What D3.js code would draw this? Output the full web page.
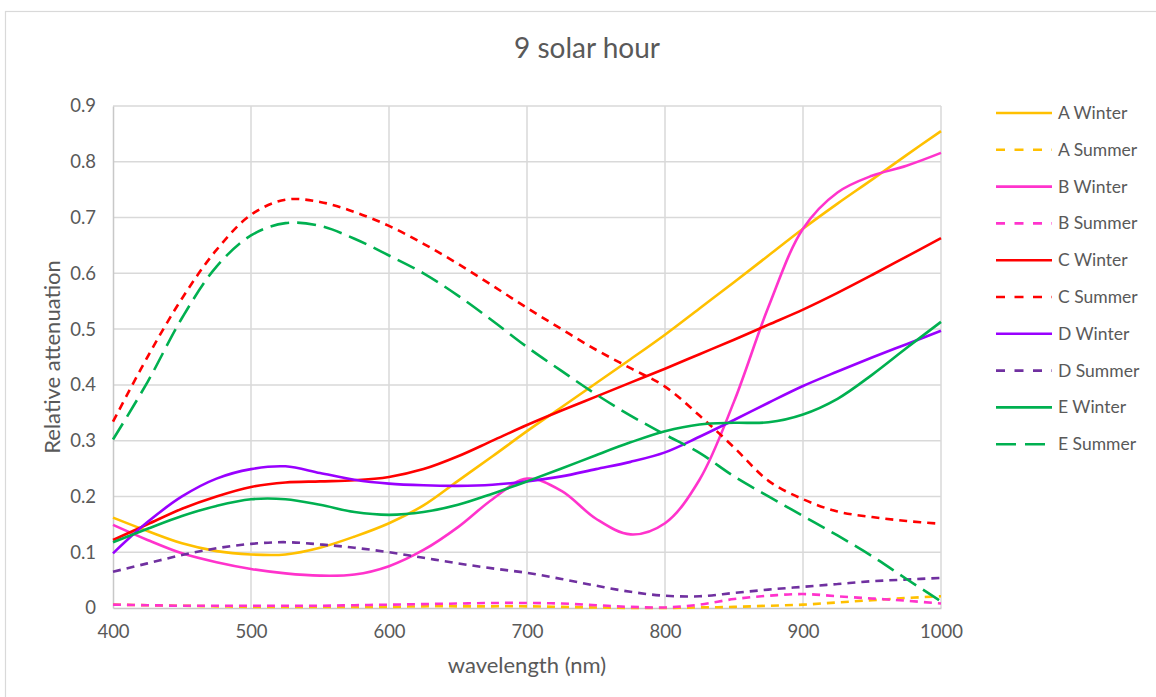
<!DOCTYPE html>
<html>
<head>
<meta charset="utf-8">
<script src="https://cdn.jsdelivr.net/npm/d3@7"></script>
<style>
  html, body { margin: 0; padding: 0; background: #fff; }
  svg { display: block; font-family: Lato, "Liberation Sans", sans-serif; }
</style>
</head>
<body>
<svg id="chart" width="1156" height="697"></svg>
<script>
// Wavelength samples (nm)
const wavelengths = [400, 425, 450, 475, 500, 525, 550, 575, 600, 625, 650, 675, 700,
                     725, 750, 775, 800, 825, 850, 875, 900, 925, 950, 975, 1000];

// Relative attenuation per site and season
const aWinter = [0.162, 0.138, 0.116, 0.102, 0.096, 0.096, 0.108, 0.128, 0.152, 0.184, 0.228, 0.272, 0.317,
                 0.360, 0.403, 0.446, 0.490, 0.537, 0.584, 0.632, 0.680, 0.725, 0.768, 0.812, 0.855];
const aSummer = [0.006, 0.005, 0.004, 0.003, 0.002, 0.002, 0.002, 0.002, 0.002, 0.003, 0.003, 0.003, 0.003,
                 0.002, 0.001, 0.000, 0.000, 0.001, 0.002, 0.004, 0.006, 0.010, 0.014, 0.018, 0.021];
const bWinter = [0.149, 0.122, 0.098, 0.082, 0.070, 0.062, 0.058, 0.060, 0.075, 0.104, 0.145, 0.195, 0.232,
                 0.210, 0.160, 0.132, 0.152, 0.230, 0.370, 0.540, 0.680, 0.745, 0.775, 0.793, 0.816];
const bSummer = [0.006, 0.005, 0.004, 0.004, 0.004, 0.004, 0.004, 0.005, 0.006, 0.007, 0.008, 0.009, 0.009,
                 0.008, 0.005, 0.002, 0.001, 0.006, 0.016, 0.022, 0.025, 0.021, 0.017, 0.013, 0.008];
const cWinter = [0.122, 0.150, 0.178, 0.200, 0.217, 0.225, 0.227, 0.229, 0.235, 0.249, 0.272, 0.300, 0.328,
                 0.354, 0.379, 0.404, 0.429, 0.455, 0.481, 0.508, 0.535, 0.565, 0.597, 0.630, 0.663];
const cSummer = [0.334, 0.450, 0.555, 0.642, 0.705, 0.732, 0.728, 0.710, 0.685, 0.653, 0.617, 0.578, 0.538,
                 0.500, 0.463, 0.430, 0.397, 0.345, 0.288, 0.228, 0.195, 0.173, 0.163, 0.156, 0.151];
const dWinter = [0.098, 0.154, 0.200, 0.232, 0.249, 0.254, 0.242, 0.230, 0.223, 0.220, 0.219, 0.221, 0.227,
                 0.236, 0.249, 0.262, 0.279, 0.307, 0.337, 0.368, 0.398, 0.424, 0.449, 0.473, 0.497];
const dSummer = [0.065, 0.080, 0.095, 0.107, 0.115, 0.118, 0.114, 0.108, 0.100, 0.090, 0.080, 0.071, 0.063,
                 0.052, 0.040, 0.029, 0.022, 0.021, 0.027, 0.033, 0.038, 0.043, 0.048, 0.051, 0.054];
const eWinter = [0.118, 0.142, 0.165, 0.183, 0.195, 0.195, 0.185, 0.172, 0.167, 0.172, 0.185, 0.205, 0.227,
                 0.250, 0.274, 0.297, 0.317, 0.329, 0.332, 0.333, 0.347, 0.375, 0.418, 0.466, 0.513];
const eSummer = [0.302, 0.405, 0.520, 0.612, 0.668, 0.690, 0.685, 0.662, 0.632, 0.600, 0.560, 0.515, 0.468,
                 0.425, 0.383, 0.345, 0.311, 0.278, 0.236, 0.200, 0.165, 0.130, 0.093, 0.052, 0.012];

const seriesNames = ["A Winter", "A Summer", "B Winter", "B Summer", "C Winter",
                     "C Summer", "D Winter", "D Summer", "E Winter", "E Summer"];
const seriesValues = [aWinter, aSummer, bWinter, bSummer, cWinter, cSummer, dWinter, dSummer, eWinter, eSummer];

const xTicks = [400, 500, 600, 700, 800, 900, 1000];
const yTicks = [0, 0.1, 0.2, 0.3, 0.4, 0.5, 0.6, 0.7, 0.8, 0.9];

// Line styling per series
const colors = ["#FFC000", "#FFC000", "#FF33CC", "#FF33CC", "#FF0000",
                "#FF0000", "#9900FF", "#7030A0", "#00B050", "#00B050"];
const dashes = [null, "8,6", null, "8,6", null, "8,6", null, "8,6", null, "19,8"];

const svg = d3.select("#chart");
const W = 1156, H = 697;
const margin = { left: 113, right: 1156 - 941, top: 106, bottom: 697 - 608 };

// Outer chart frame
svg.append("rect")
  .attr("x", 5.5).attr("y", 11.5)
  .attr("width", W + 10).attr("height", H + 10)
  .attr("fill", "none").attr("stroke", "#D9D9D9").attr("stroke-width", 1.2);

const x = d3.scaleLinear().domain([400, 1000]).range([margin.left, W - margin.right]);
const y = d3.scaleLinear().domain([0, 0.9]).range([H - margin.bottom, margin.top]);

// Gridlines
const grid = svg.append("g");
grid.selectAll("line.h").data(yTicks.slice(1)).join("line")
  .attr("x1", x(400)).attr("x2", x(1000))
  .attr("y1", d => y(d)).attr("y2", d => y(d))
  .attr("stroke", "#D9D9D9").attr("stroke-width", 1.5);
grid.selectAll("line.v").data(xTicks.slice(1)).join("line")
  .attr("y1", y(0)).attr("y2", y(0.9))
  .attr("x1", d => x(d)).attr("x2", d => x(d))
  .attr("stroke", "#D9D9D9").attr("stroke-width", 1.5);

// Axes
const xAxis = d3.axisBottom(x).tickValues(xTicks).tickSize(0).tickPadding(17)
  .tickFormat(d3.format("d"));
const yAxis = d3.axisLeft(y).tickValues(yTicks).tickSize(0).tickPadding(17)
  .tickFormat(d => d === 0 ? "0" : d3.format(".1f")(d));

const gx = svg.append("g").attr("transform", `translate(0,${y(0)})`).call(xAxis);
const gy = svg.append("g").attr("transform", `translate(${x(400)},0)`).call(yAxis);
[gx, gy].forEach(g => {
  g.select(".domain").attr("stroke", "#C8C8C8").attr("stroke-width", 1.5);
  g.selectAll("text").attr("fill", "#595959").attr("font-size", 18.5)
    .attr("font-family", "Lato, sans-serif");
});

// Series lines
const line = d3.line()
  .x((d, i) => x(wavelengths[i]))
  .y(d => y(d))
  .curve(d3.curveCatmullRom.alpha(0.5));

svg.append("g").selectAll("path").data(seriesValues).join("path")
  .attr("d", d => line(d))
  .attr("fill", "none")
  .attr("stroke", (d, i) => colors[i])
  .attr("stroke-width", 2.6)
  .attr("stroke-dasharray", (d, i) => dashes[i]);

// Title and axis titles
svg.append("text")
  .attr("x", 587).attr("y", 58)
  .attr("text-anchor", "middle")
  .attr("font-size", 28).attr("fill", "#595959")
  .text("9 solar hour");

svg.append("text")
  .attr("x", (x(400) + x(1000)) / 2).attr("y", 673)
  .attr("text-anchor", "middle")
  .attr("font-size", 22).attr("fill", "#595959")
  .text("wavelength (nm)");

svg.append("text")
  .attr("transform", `translate(60,${(y(0) + y(0.9)) / 2}) rotate(-90)`)
  .attr("text-anchor", "middle")
  .attr("font-size", 22).attr("fill", "#595959")
  .text("Relative attenuation");

// Legend
const legend = svg.append("g").attr("transform", "translate(996,113)");
const rows = legend.selectAll("g").data(seriesNames).join("g")
  .attr("transform", (d, i) => `translate(0,${i * 36.8})`);
rows.append("line")
  .attr("x1", 0).attr("x2", 56).attr("y1", 0).attr("y2", 0)
  .attr("stroke", (d, i) => colors[i])
  .attr("stroke-width", 2.6)
  .attr("stroke-dasharray", (d, i) => dashes[i] ? (i === 9 ? "20,9" : "9,9.5") : null);
rows.append("text")
  .attr("x", 62).attr("y", 6)
  .attr("font-size", 17.5).attr("fill", "#595959")
  .text(d => d);
</script>
</body>
</html>
